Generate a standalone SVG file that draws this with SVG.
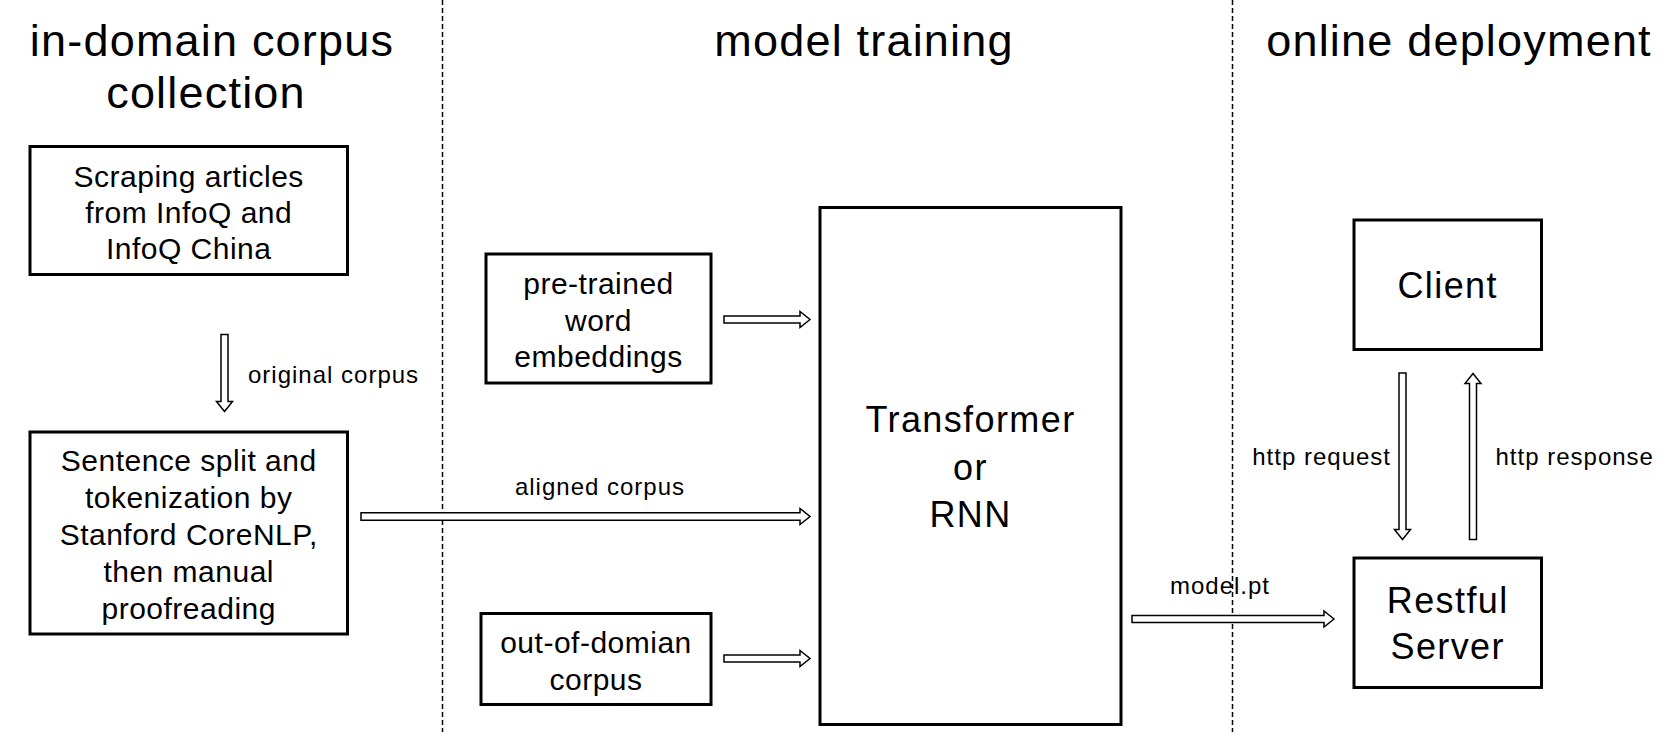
<svg xmlns="http://www.w3.org/2000/svg" width="1676" height="732" viewBox="0 0 1676 732">
<style>
text{font-family:"Liberation Sans",Arial,Helvetica,sans-serif;fill:#000;text-anchor:middle}
.title{font-size:45px;letter-spacing:1.2px}
.box{fill:#fff;stroke:#000;stroke-width:3}
.bt{font-size:30px;letter-spacing:0.5px}
.big{font-size:36px;letter-spacing:1.4px}
.lbl{font-size:24px;letter-spacing:1px}
.arr{fill:#fff;stroke:#000;stroke-width:1.5;stroke-linejoin:miter}
.div{stroke:#000;stroke-width:1.5;stroke-dasharray:5 3;fill:none}
</style>
<rect width="1676" height="732" fill="#fff"/>
<g id="dividers">
<line class="div" x1="442.5" y1="0" x2="442.5" y2="732"/>
<line class="div" x1="1232.5" y1="0" x2="1232.5" y2="732"/>
</g>
<g id="titles">
<text class="title" x="212" y="56">in-domain corpus</text>
<text class="title" x="206" y="108">collection</text>
<text class="title" x="864" y="56">model training</text>
<text class="title" x="1459" y="56">online deployment</text>
</g>
<g id="scraping">
<rect class="box" x="30" y="146.5" width="317.5" height="128"/>
<text class="bt" x="188.7" y="186.5">Scraping articles</text>
<text class="bt" x="188.7" y="222.5">from InfoQ and</text>
<text class="bt" x="188.7" y="259">InfoQ China</text>
</g>
<g id="sentence">
<rect class="box" x="30" y="432" width="317.5" height="202"/>
<text class="bt" x="188.7" y="470.5">Sentence split and</text>
<text class="bt" x="188.7" y="507.5">tokenization by</text>
<text class="bt" x="188.7" y="545">Stanford CoreNLP,</text>
<text class="bt" x="188.7" y="582">then manual</text>
<text class="bt" x="188.7" y="619">proofreading</text>
</g>
<g id="pretrained">
<rect class="box" x="486" y="254" width="225" height="129"/>
<text class="bt" x="598.5" y="294">pre-trained</text>
<text class="bt" x="598.5" y="330.5">word</text>
<text class="bt" x="598.5" y="367">embeddings</text>
</g>
<g id="outdomain">
<rect class="box" x="481" y="613.5" width="230" height="91"/>
<text class="bt" x="596" y="653">out-of-domian</text>
<text class="bt" x="596" y="689.5">corpus</text>
</g>
<g id="model">
<rect class="box" x="820" y="207.5" width="301" height="517"/>
<text class="big" x="970.5" y="432">Transformer</text>
<text class="big" x="970.5" y="479.5">or</text>
<text class="big" x="970.5" y="527">RNN</text>
</g>
<g id="client">
<rect class="box" x="1354" y="220" width="187.5" height="129.5"/>
<text class="big" x="1447.7" y="298">Client</text>
</g>
<g id="server">
<rect class="box" x="1354" y="558" width="187.5" height="129.5"/>
<text class="big" x="1447.7" y="612.5">Restful</text>
<text class="big" x="1447.7" y="659">Server</text>
</g>
<g id="connectors">
<polygon class="arr" points="221,334.5 228,334.5 228,401.5 232.5,401.5 224.5,411.5 216.5,401.5 221,401.5"/>
<text class="lbl" x="248" y="383" style="text-anchor:start">original corpus</text>
<polygon class="arr" points="361,512.8 800,512.8 800,508.5 810,516.5 800,524.5 800,520.2 361,520.2"/>
<text class="lbl" x="600" y="495">aligned corpus</text>
<polygon class="arr" points="724,316 800,316 800,311.5 810,319.5 800,327.5 800,323 724,323"/>
<polygon class="arr" points="724,655 800,655 800,650.5 810,658.5 800,666.5 800,662 724,662"/>
<polygon class="arr" points="1132,615.5 1324,615.5 1324,611 1334,619 1324,627 1324,622.5 1132,622.5"/>
<text class="lbl" x="1220" y="594">model.pt</text>
<polygon class="arr" points="1399,373 1406,373 1406,529.5 1410.5,529.5 1402.5,539.5 1394.5,529.5 1399,529.5"/>
<text class="lbl" x="1391" y="465" style="text-anchor:end">http request</text>
<polygon class="arr" points="1469.5,539.5 1476.5,539.5 1476.5,383.5 1481,383.5 1473,373.5 1465,383.5 1469.5,383.5"/>
<text class="lbl" x="1495.5" y="465" style="text-anchor:start">http response</text>
</g>
</svg>
